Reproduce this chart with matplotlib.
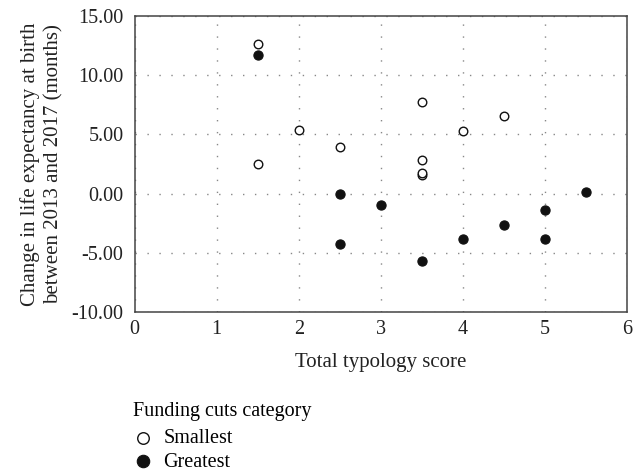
import matplotlib
matplotlib.use("Agg")
import matplotlib.pyplot as plt

plt.rcParams['font.family'] = ['Liberation Serif', 'DejaVu Serif']

# Data
smallest_x = [1.5, 1.5, 2.0, 2.5, 3.5, 3.5, 3.5, 3.5, 4.0, 4.5]
smallest_y = [12.62, 2.5, 5.35, 3.94, 7.73, 2.84, 1.55, 1.72, 5.26, 6.5]
greatest_x = [1.5, 2.5, 2.5, 3.0, 3.5, 4.0, 4.5, 5.0, 5.0, 5.5]
greatest_y = [11.67, -0.05, -4.25, -1.0, -5.73, -3.85, -2.69, -1.43, -3.85, 0.09]
xticks = [0, 1, 2, 3, 4, 5, 6]
yticks = [-10, -5, 0, 5, 10, 15]
xlabel = "Total typology score"
ylabel = "Change in life expectancy at birth\nbetween 2013 and 2017 (months)"
legend_title = "Funding cuts category"
series_names = ["Smallest", "Greatest"]

fig = plt.figure(figsize=(6.38, 4.75), dpi=100)
ax = fig.add_axes([0.211, 0.343, 0.772, 0.624])

ax.scatter(smallest_x, smallest_y, s=38, facecolors='white', edgecolors='#111111',
           linewidths=1.0, zorder=3, label=series_names[0])
ax.scatter(greatest_x, greatest_y, s=44, facecolors='#111111', edgecolors='#111111',
           linewidths=0.8, zorder=3, label=series_names[1])

ax.set_xlim(0, 6)
ax.set_ylim(-10, 15)
ax.set_xticks(xticks)
ax.set_yticks(yticks)
ax.set_xticklabels([str(v) for v in xticks])
ax.set_yticklabels([f"{v:.2f}" for v in yticks])
ax.tick_params(length=0, labelsize=14.5, colors='#222222')
ax.tick_params(axis='y', pad=8)
ax.tick_params(axis='x', pad=6)

for sp in ax.spines.values():
    sp.set_color('#444444')
    sp.set_linewidth(1.1)

ax.grid(True, color='#888888', linestyle=(0, (1, 7.6)), linewidth=1.0)
ax.set_axisbelow(True)

ax.set_xlabel(xlabel, fontsize=15, color='#222222', labelpad=10)
ax.set_ylabel(ylabel, fontsize=15, color='#222222', labelpad=6, linespacing=1.3)

leg = fig.legend(loc='upper left', bbox_to_anchor=(133 / 638, 1 - 402 / 475),
                 frameon=False, title=legend_title, fontsize=14.5, title_fontsize=14.5,
                 scatterpoints=1, handlelength=1.0, handletextpad=0.5, markerscale=1.35,
                 borderpad=0, borderaxespad=0, labelspacing=0.2)
leg._legend_box.align = 'left'
leg._legend_box.sep = 6

fig.savefig("out.png", dpi=100)
